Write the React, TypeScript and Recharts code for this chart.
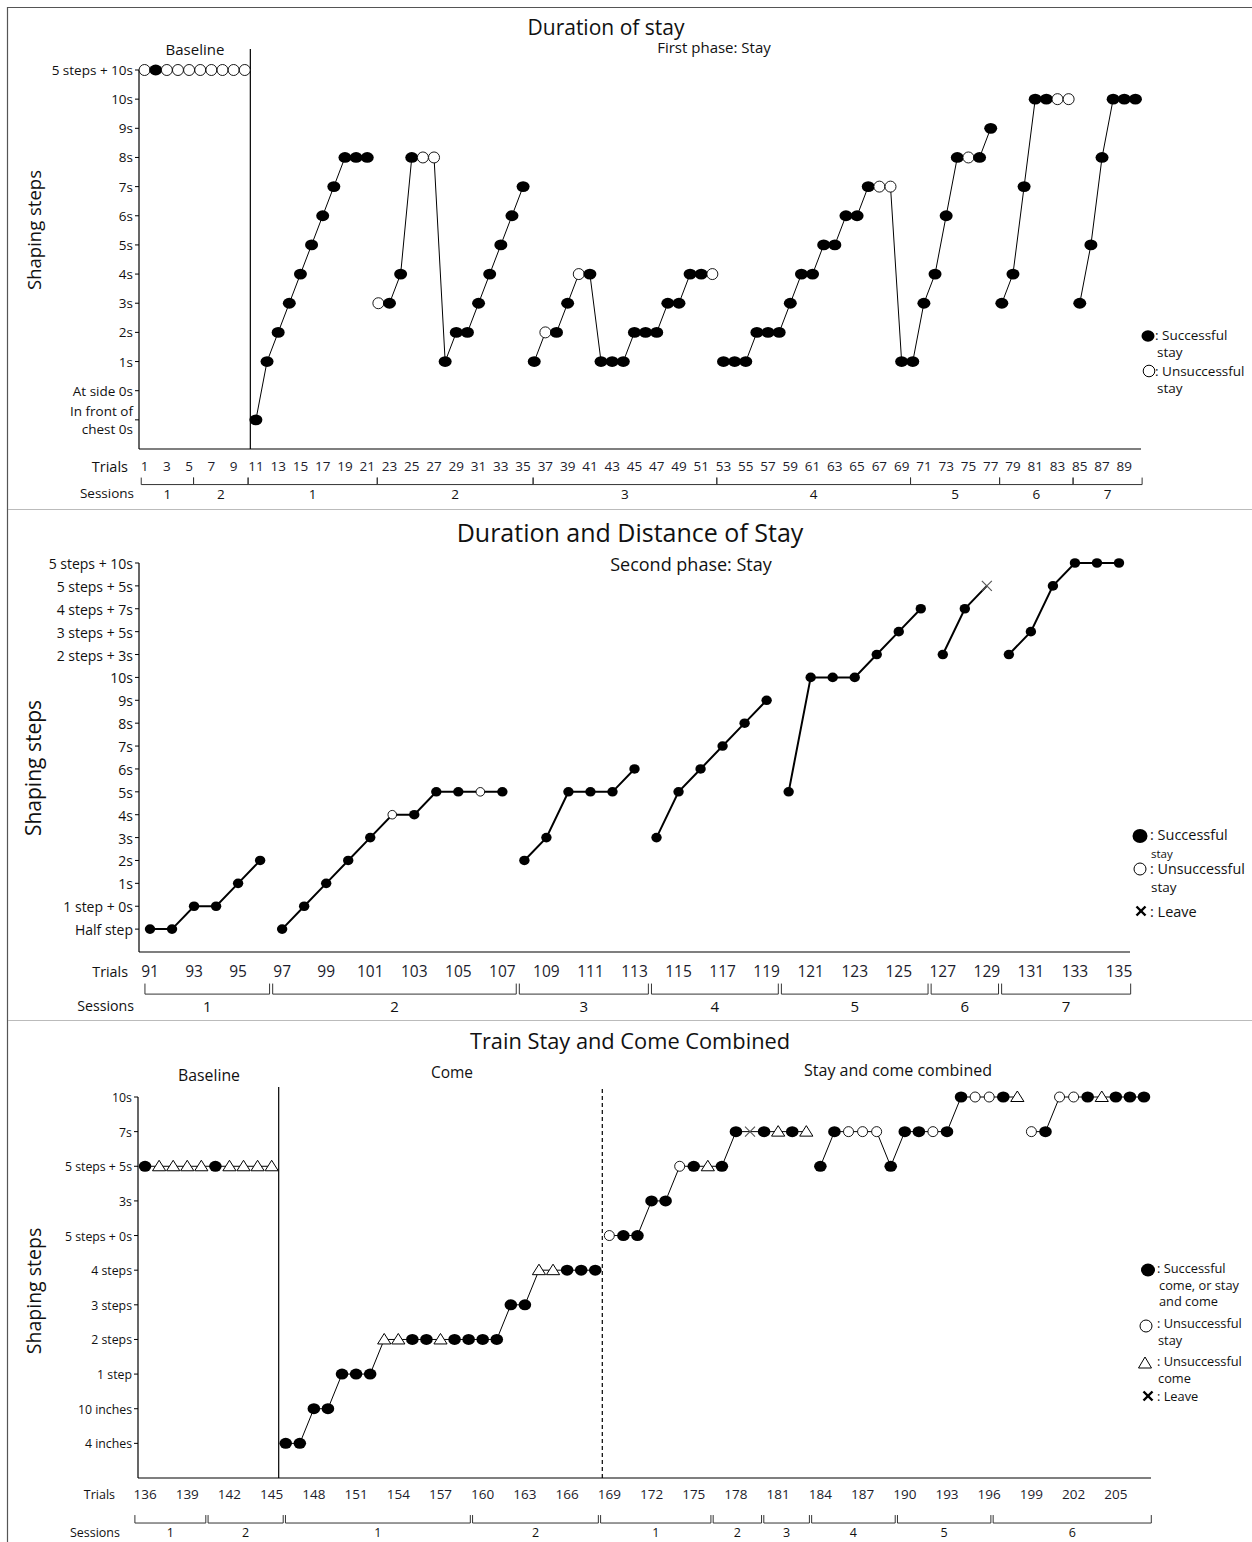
import React from 'react';
import { ComposedChart, Line, XAxis, YAxis, ReferenceLine, ReferenceDot } from 'recharts';

const FONT = '"Open Sans", "Noto Sans", sans-serif';

// ---------- Duration of stay (first phase), trials 1-90 ----------
const stayStart = 1;
const stayLevels = [
  13, 13, 13, 13, 13, 13, 13, 13, 13, 13,
  1, 3, 4, 5, 6, 7, 8, 9, 10, 10, 10,
  5, 5, 6, 10, 10, 10, 3, 4, 4, 5, 6, 7, 8, 9,
  3, 4, 4, 5, 6, 6, 3, 3, 3, 4, 4, 4, 5, 5, 6, 6, 6,
  3, 3, 3, 4, 4, 4, 5, 6, 6, 7, 7, 8, 8, 9, 9, 9, 3, 3, 5, 6, 8, 10, 10, 10, 11,
  5, 6, 9, 12, 12, 12, 12,
  5, 7, 10, 12, 12, 12,
];
// f = successful, o = unsuccessful
const stayStatus =
  'ofoooooooo' + 'fffffffffff' + 'offfooffffffff' + 'foffofffffffffffo' +
  'ffffffffffffffooffffffoff' + 'fffffoo' + 'ffffff';
const staySegments = [[1, 10], [11, 21], [22, 35], [36, 52], [53, 77], [78, 84], [85, 90]];
const stayYLabels = ['', 'In front of\nchest 0s', 'At side 0s', '1s', '2s', '3s', '4s', '5s', '6s', '7s', '8s', '9s', '10s', '5 steps + 10s'];
const stayTrialTicks = Array.from({ length: 45 }, (_, i) => 1 + 2 * i);
const staySessionBounds = [0.7, 5.4, 10.3, 21.9, 35.9, 52.4, 69.8, 77.8, 84.4, 90.6];
const staySessionLabels = ['1', '2', '1', '2', '3', '4', '5', '6', '7'];

// ---------- Duration and distance of stay (second phase), trials 91-135 ----------
const distStart = 91;
const distLevels = [
  1, 1, 2, 2, 3, 4,
  1, 2, 3, 4, 5, 6, 6, 7, 7, 7, 7,
  4, 5, 7, 7, 7, 8,
  5, 7, 8, 9, 10, 11,
  7, 12, 12, 12, 13, 14, 15,
  13, 15, 16,
  13, 14, 16, 17, 17, 17,
];
const distStatus = 'ffffff' + 'fffffofffof' + 'ffffff' + 'ffffff' + 'fffffff' + 'ffx' + 'ffffff';
const distSegments = [[91, 96], [97, 107], [108, 113], [114, 119], [120, 126], [127, 129], [130, 135]];
const distYLabels = ['', 'Half step', '1 step + 0s', '1s', '2s', '3s', '4s', '5s', '6s', '7s', '8s', '9s', '10s',
  '2 steps + 3s', '3 steps + 5s', '4 steps + 7s', '5 steps + 5s', '5 steps + 10s'];
const distTrialTicks = Array.from({ length: 23 }, (_, i) => 91 + 2 * i);
const distSessionBounds = [90.7, 96.5, 107.7, 113.7, 119.6, 126.4, 129.6, 135.6];
const distSessionLabels = ['1', '2', '3', '4', '5', '6', '7'];

// ---------- Train stay and come combined, trials 136-207 ----------
const comeStart = 136;
const comeLevels = [
  9, 9, 9, 9, 9, 9, 9, 9, 9, 9,
  1, 1, 2, 2, 3, 3, 3, 4, 4, 4, 4, 4, 4, 4, 4, 4, 5, 5, 6, 6, 6, 6, 6,
  7, 7, 7, 8, 8, 9, 9, 9, 9, 10, 10, 10, 10, 10, 10,
  9, 10, 10, 10, 10, 9, 10, 10, 10, 10, 11, 11, 11, 11, 11,
  10, 10, 11, 11, 11, 11, 11, 11, 11,
];
// f = successful, o = unsuccessful stay, t = unsuccessful come, x = leave
const comeStatus = 'fttttftttt' + 'fffffffttfftffffffttfff' + 'offffoftffxftft' + 'ffooofffoffooft' + 'ofooftfff';
const comeSegments = [[136, 145], [146, 168], [169, 183], [184, 198], [199, 207]];
const comeYLabels = ['', '4 inches', '10 inches', '1 step', '2 steps', '3 steps', '4 steps', '5 steps + 0s', '3s', '5 steps + 5s', '7s', '10s'];
const comeTrialTicks = Array.from({ length: 24 }, (_, i) => 136 + 3 * i);
const comeSessionBounds = [135.2, 140.4, 145.9, 159.2, 168.3, 176.3, 179.9, 183.3, 189.4, 196.2, 207.6];
const comeSessionLabels = ['1', '2', '1', '2', '1', '2', '3', '4', '5', '6'];

type Row = { [k: string]: number | string | null };

function buildRows(start: number, levels: number[], status: string, segments: number[][]): Row[] {
  return levels.map((lv, i) => {
    const trial = start + i;
    const row: Row = { trial, lv, st: status[i] };
    segments.forEach(([a, b], k) => {
      row['s' + k] = trial >= a && trial <= b ? lv : null;
    });
    return row;
  });
}

type MarkerStyle = { frx: number; fry: number; or: number; ow: number; ts: number; xs: number };

function renderMarker(p: any, m: MarkerStyle) {
  const { cx, cy, payload, index } = p;
  const key = 'm' + index;
  if (cx == null || cy == null) return <g key={key} />;
  const st = payload.st;
  if (st === 'f') return <ellipse key={key} cx={cx} cy={cy} rx={m.frx} ry={m.fry} fill="#000" />;
  if (st === 'o') return <ellipse key={key} cx={cx} cy={cy} rx={m.or} ry={m.or} fill="#fff" stroke="#000" strokeWidth={m.ow} />;
  if (st === 't') {
    const s = m.ts;
    return (
      <polygon key={key} points={`${cx},${cy - s} ${cx - s * 1.1},${cy + s * 0.75} ${cx + s * 1.1},${cy + s * 0.75}`}
        fill="#fff" stroke="#000" strokeWidth={1} />
    );
  }
  const s = m.xs;
  return (
    <g key={key} stroke="#555" strokeWidth={1.1}>
      <line x1={cx - s} y1={cy - s} x2={cx + s} y2={cy + s} />
      <line x1={cx - s} y1={cy + s} x2={cx + s} y2={cy - s} />
    </g>
  );
}

function YTick(props: any) {
  const { x, y, payload, labels, fontSize } = props;
  const lines: string[] = (labels[payload.value] || '').split('\n');
  const lh = fontSize * 1.3;
  return (
    <text x={x} y={y} textAnchor="end" fontSize={fontSize} fontFamily={FONT} fill="#111" dominantBaseline="central">
      {lines.map((l, i) => (
        <tspan key={i} x={x} dy={i === 0 ? -((lines.length - 1) / 2) * lh : lh}>{l}</tspan>
      ))}
    </text>
  );
}

type PanelCfg = {
  top: number;
  height: number;
  margin: { top: number; right: number; bottom: number; left: number };
  yWidth: number;
  xDomain: [number, number];
  yMax: number;
  rows: Row[];
  segments: number[][];
  yLabels: string[];
  yFont: number;
  xTicks: number[];
  xFont: number;
  xTickSize: number;
  bounds: number[];
  sessLabels: string[];
  bracketY: number;
  bracketTop: number;
  sessY: number;
  sessFont: number;
  inset: number;
  lineWidth: number;
  marker: MarkerStyle;
  phaseLines: { x: number; top: number; dashed: boolean }[];
};

function Panel({ cfg }: { cfg: PanelCfg }) {
  const yTicks = Array.from({ length: cfg.yMax }, (_, i) => i + 1);
  const brackets = cfg.sessLabels.map((lab, i) => {
    const a = cfg.bounds[i] + cfg.inset;
    const b = cfg.bounds[i + 1] - cfg.inset;
    return { lab, a, b, mid: (cfg.bounds[i] + cfg.bounds[i + 1]) / 2 };
  });
  return (
    <div style={{ position: 'absolute', left: 0, top: cfg.top }}>
      <ComposedChart width={1252} height={cfg.height} data={cfg.rows} margin={cfg.margin} style={{ overflow: 'visible' }}>
        <XAxis
          type="number"
          dataKey="trial"
          domain={cfg.xDomain}
          ticks={cfg.xTicks}
          interval={0}
          height={40}
          tickLine={false}
          tickSize={cfg.xTickSize}
          axisLine={{ stroke: '#000', strokeWidth: 1.2 }}
          tick={{ fontSize: cfg.xFont, fill: '#1c1c2c', fontFamily: FONT }}
        />
        <YAxis
          type="number"
          domain={[0, cfg.yMax]}
          ticks={yTicks}
          interval={0}
          width={cfg.yWidth}
          tickSize={4}
          tickLine={{ stroke: '#000' }}
          axisLine={{ stroke: '#000', strokeWidth: 1.2 }}
          tick={(p: any) => <YTick {...p} labels={cfg.yLabels} fontSize={cfg.yFont} />}
        />
        {cfg.phaseLines.map((pl, i) => (
          <ReferenceLine key={'ph' + i} segment={[{ x: pl.x, y: 0 }, { x: pl.x, y: pl.top }]} stroke="#000"
            strokeWidth={1.2} strokeDasharray={pl.dashed ? '4 3' : undefined} ifOverflow="visible" />
        ))}
        {brackets.map((br, i) => (
          <ReferenceLine key={'bh' + i} segment={[{ x: br.a, y: cfg.bracketY }, { x: br.b, y: cfg.bracketY }]}
            stroke="#333" ifOverflow="visible" />
        ))}
        {brackets.map((br, i) => (
          <ReferenceLine key={'bl' + i} segment={[{ x: br.a, y: cfg.bracketY }, { x: br.a, y: cfg.bracketTop }]}
            stroke="#333" ifOverflow="visible" />
        ))}
        {brackets.map((br, i) => (
          <ReferenceLine key={'br' + i} segment={[{ x: br.b, y: cfg.bracketY }, { x: br.b, y: cfg.bracketTop }]}
            stroke="#333" ifOverflow="visible" />
        ))}
        {brackets.map((br, i) => (
          <ReferenceDot key={'bt' + i} x={br.mid} y={cfg.sessY} r={1} fill="none" stroke="none" ifOverflow="visible"
            label={{ value: br.lab, position: 'center', fontSize: cfg.sessFont, fill: '#111', fontFamily: FONT }} />
        ))}
        {cfg.segments.map((_, k) => (
          <Line key={'seg' + k} dataKey={'s' + k} stroke="#000" strokeWidth={cfg.lineWidth} dot={false}
            activeDot={false} connectNulls={false} isAnimationActive={false} type="linear" />
        ))}
        <Line dataKey="lv" stroke="none" dot={(p: any) => renderMarker(p, cfg.marker)} activeDot={false}
          isAnimationActive={false} type="linear" />
      </ComposedChart>
    </div>
  );
}

const stayCfg: PanelCfg = {
  top: 0,
  height: 510,
  margin: { top: 70, right: 111, bottom: 21, left: 9 },
  yWidth: 130,
  xDomain: [0.5, 90.5],
  yMax: 13,
  rows: buildRows(stayStart, stayLevels, stayStatus, staySegments),
  segments: staySegments,
  yLabels: stayYLabels,
  yFont: 13.5,
  xTicks: stayTrialTicks,
  xFont: 13.5,
  xTickSize: 10.5,
  bounds: staySessionBounds,
  sessLabels: staySessionLabels,
  bracketY: -1.22,
  bracketTop: -0.98,
  sessY: -1.55,
  sessFont: 13.5,
  inset: 0,
  lineWidth: 1,
  marker: { frx: 6.5, fry: 5.4, or: 5.5, ow: 0.9, ts: 6, xs: 5 },
  phaseLines: [{ x: 10.5, top: 13.72, dashed: false }],
};

const distCfg: PanelCfg = {
  top: 510,
  height: 510,
  margin: { top: 53, right: 122, bottom: 28, left: 9 },
  yWidth: 130,
  xDomain: [90.5, 135.5],
  yMax: 17,
  rows: buildRows(distStart, distLevels, distStatus, distSegments),
  segments: distSegments,
  yLabels: distYLabels,
  yFont: 14,
  xTicks: distTrialTicks,
  xFont: 15.5,
  xTickSize: 11.5,
  bounds: distSessionBounds,
  sessLabels: distSessionLabels,
  bracketY: -1.84,
  bracketTop: -1.38,
  sessY: -2.4,
  sessFont: 15,
  inset: 0.07,
  lineWidth: 2,
  marker: { frx: 5.2, fry: 4.8, or: 4.3, ow: 0.9, ts: 6, xs: 5 },
  phaseLines: [],
};

const comeCfg: PanelCfg = {
  top: 1020,
  height: 522,
  margin: { top: 77, right: 101, bottom: 24, left: 8 },
  yWidth: 130,
  xDomain: [135.5, 207.5],
  yMax: 11,
  rows: buildRows(comeStart, comeLevels, comeStatus, comeSegments),
  segments: comeSegments,
  yLabels: comeYLabels,
  yFont: 12.3,
  xTicks: comeTrialTicks,
  xFont: 13.5,
  xTickSize: 9.5,
  bounds: comeSessionBounds,
  sessLabels: comeSessionLabels,
  bracketY: -1.3,
  bracketTop: -1.07,
  sessY: -1.57,
  sessFont: 12.5,
  inset: 0.08,
  lineWidth: 1,
  marker: { frx: 6.3, fry: 5.5, or: 5, ow: 0.9, ts: 6, xs: 5 },
  phaseLines: [
    { x: 145.5, top: 11.29, dashed: false },
    { x: 168.5, top: 11.29, dashed: true },
  ],
};

function T({ x, y, size, children, anchor = 'start', weight = 400, rotate = false }: any) {
  return (
    <text x={x} y={y} fontSize={size} fontFamily={FONT} fontWeight={weight} fill="#111" textAnchor={anchor}
      dominantBaseline="central" transform={rotate ? `rotate(-90 ${x} ${y})` : undefined}>
      {children}
    </text>
  );
}

function LegendX({ x, y }: { x: number; y: number }) {
  return (
    <g stroke="#000" strokeWidth={2.4}>
      <line x1={x - 4.5} y1={y - 4.5} x2={x + 4.5} y2={y + 4.5} />
      <line x1={x - 4.5} y1={y + 4.5} x2={x + 4.5} y2={y - 4.5} />
    </g>
  );
}

function Overlay() {
  return (
    <svg width={1252} height={1542} style={{ position: 'absolute', left: 0, top: 0, pointerEvents: 'none' }}>
      {/* frame and panel separators */}
      <line x1={7.5} y1={7} x2={7.5} y2={1542} stroke="#555" strokeWidth={1.2} />
      <line x1={7} y1={7.5} x2={1252} y2={7.5} stroke="#555" strokeWidth={1.2} />
      <line x1={8} y1={509.5} x2={1252} y2={509.5} stroke="#bbb" strokeWidth={1} />
      <line x1={8} y1={1020.5} x2={1252} y2={1020.5} stroke="#bbb" strokeWidth={1} />

      {/* first panel */}
      <T x={606} y={27} size={21} anchor="middle">Duration of stay</T>
      <T x={714} y={47} size={15} anchor="middle">First phase: Stay</T>
      <T x={195} y={49} size={15} anchor="middle">Baseline</T>
      <T x={33} y={230} size={18.5} anchor="middle" rotate>Shaping steps</T>
      <T x={128} y={466} size={14.5} anchor="end">Trials</T>
      <T x={134} y={493} size={13.5} anchor="end">Sessions</T>
      <ellipse cx={1148} cy={336} rx={6.5} ry={5.8} fill="#000" />
      <T x={1155} y={335} size={13.5}>: Successful</T>
      <T x={1157} y={352} size={13.5}>stay</T>
      <ellipse cx={1149} cy={371} rx={5.8} ry={5.8} fill="#fff" stroke="#000" strokeWidth={1} />
      <T x={1155} y={371} size={13.5}>: Unsuccessful</T>
      <T x={1157} y={388} size={13.5}>stay</T>

      {/* second panel */}
      <T x={630} y={532} size={25} anchor="middle">Duration and Distance of Stay</T>
      <T x={691} y={564} size={18} anchor="middle">Second phase: Stay</T>
      <T x={33} y={768} size={21} anchor="middle" rotate>Shaping steps</T>
      <T x={128} y={971} size={14.3} anchor="end">Trials</T>
      <T x={134} y={1005} size={14.2} anchor="end">Sessions</T>
      <ellipse cx={1140} cy={836} rx={7.5} ry={7} fill="#000" />
      <T x={1150} y={834} size={14.5}>: Successful</T>
      <T x={1151} y={853} size={11.5}>stay</T>
      <ellipse cx={1140} cy={869} rx={6} ry={6} fill="#fff" stroke="#000" strokeWidth={1} />
      <T x={1150} y={868} size={14.3}>: Unsuccessful</T>
      <T x={1151} y={887} size={13.5}>stay</T>
      <LegendX x={1141} y={911} />
      <T x={1150} y={911} size={14.5}>: Leave</T>

      {/* third panel */}
      <T x={630} y={1040} size={21.8} anchor="middle">Train Stay and Come Combined</T>
      <T x={209} y={1075} size={15.8} anchor="middle">Baseline</T>
      <T x={452} y={1072} size={15.5} anchor="middle">Come</T>
      <T x={898} y={1070} size={16} anchor="middle">Stay and come combined</T>
      <T x={33} y={1291} size={19.5} anchor="middle" rotate>Shaping steps</T>
      <T x={115} y={1494} size={12.5} anchor="end">Trials</T>
      <T x={120} y={1532} size={12.5} anchor="end">Sessions</T>
      <ellipse cx={1148} cy={1270} rx={7} ry={6.5} fill="#000" />
      <T x={1157} y={1268} size={12.8}>: Successful</T>
      <T x={1159} y={1285} size={12.8}>come, or stay</T>
      <T x={1159} y={1301} size={12.8}>and come</T>
      <ellipse cx={1146} cy={1326} rx={6} ry={6} fill="#fff" stroke="#000" strokeWidth={1} />
      <T x={1157} y={1323} size={12.8}>: Unsuccessful</T>
      <T x={1158} y={1340} size={12.8}>stay</T>
      <polygon points="1145,1357 1138.5,1368 1151.5,1368" fill="#fff" stroke="#000" strokeWidth={1} />
      <T x={1157} y={1361} size={12.8}>: Unsuccessful</T>
      <T x={1158} y={1378} size={12.8}>come</T>
      <LegendX x={1148} y={1396} />
      <T x={1157} y={1396} size={12.8}>: Leave</T>
    </svg>
  );
}

export default function App() {
  return (
    <div style={{ position: 'absolute', left: 0, top: 0, width: 1252, height: 1542, background: '#fff', fontFamily: FONT }}>
      <Panel cfg={stayCfg} />
      <Panel cfg={distCfg} />
      <Panel cfg={comeCfg} />
      <Overlay />
    </div>
  );
}
